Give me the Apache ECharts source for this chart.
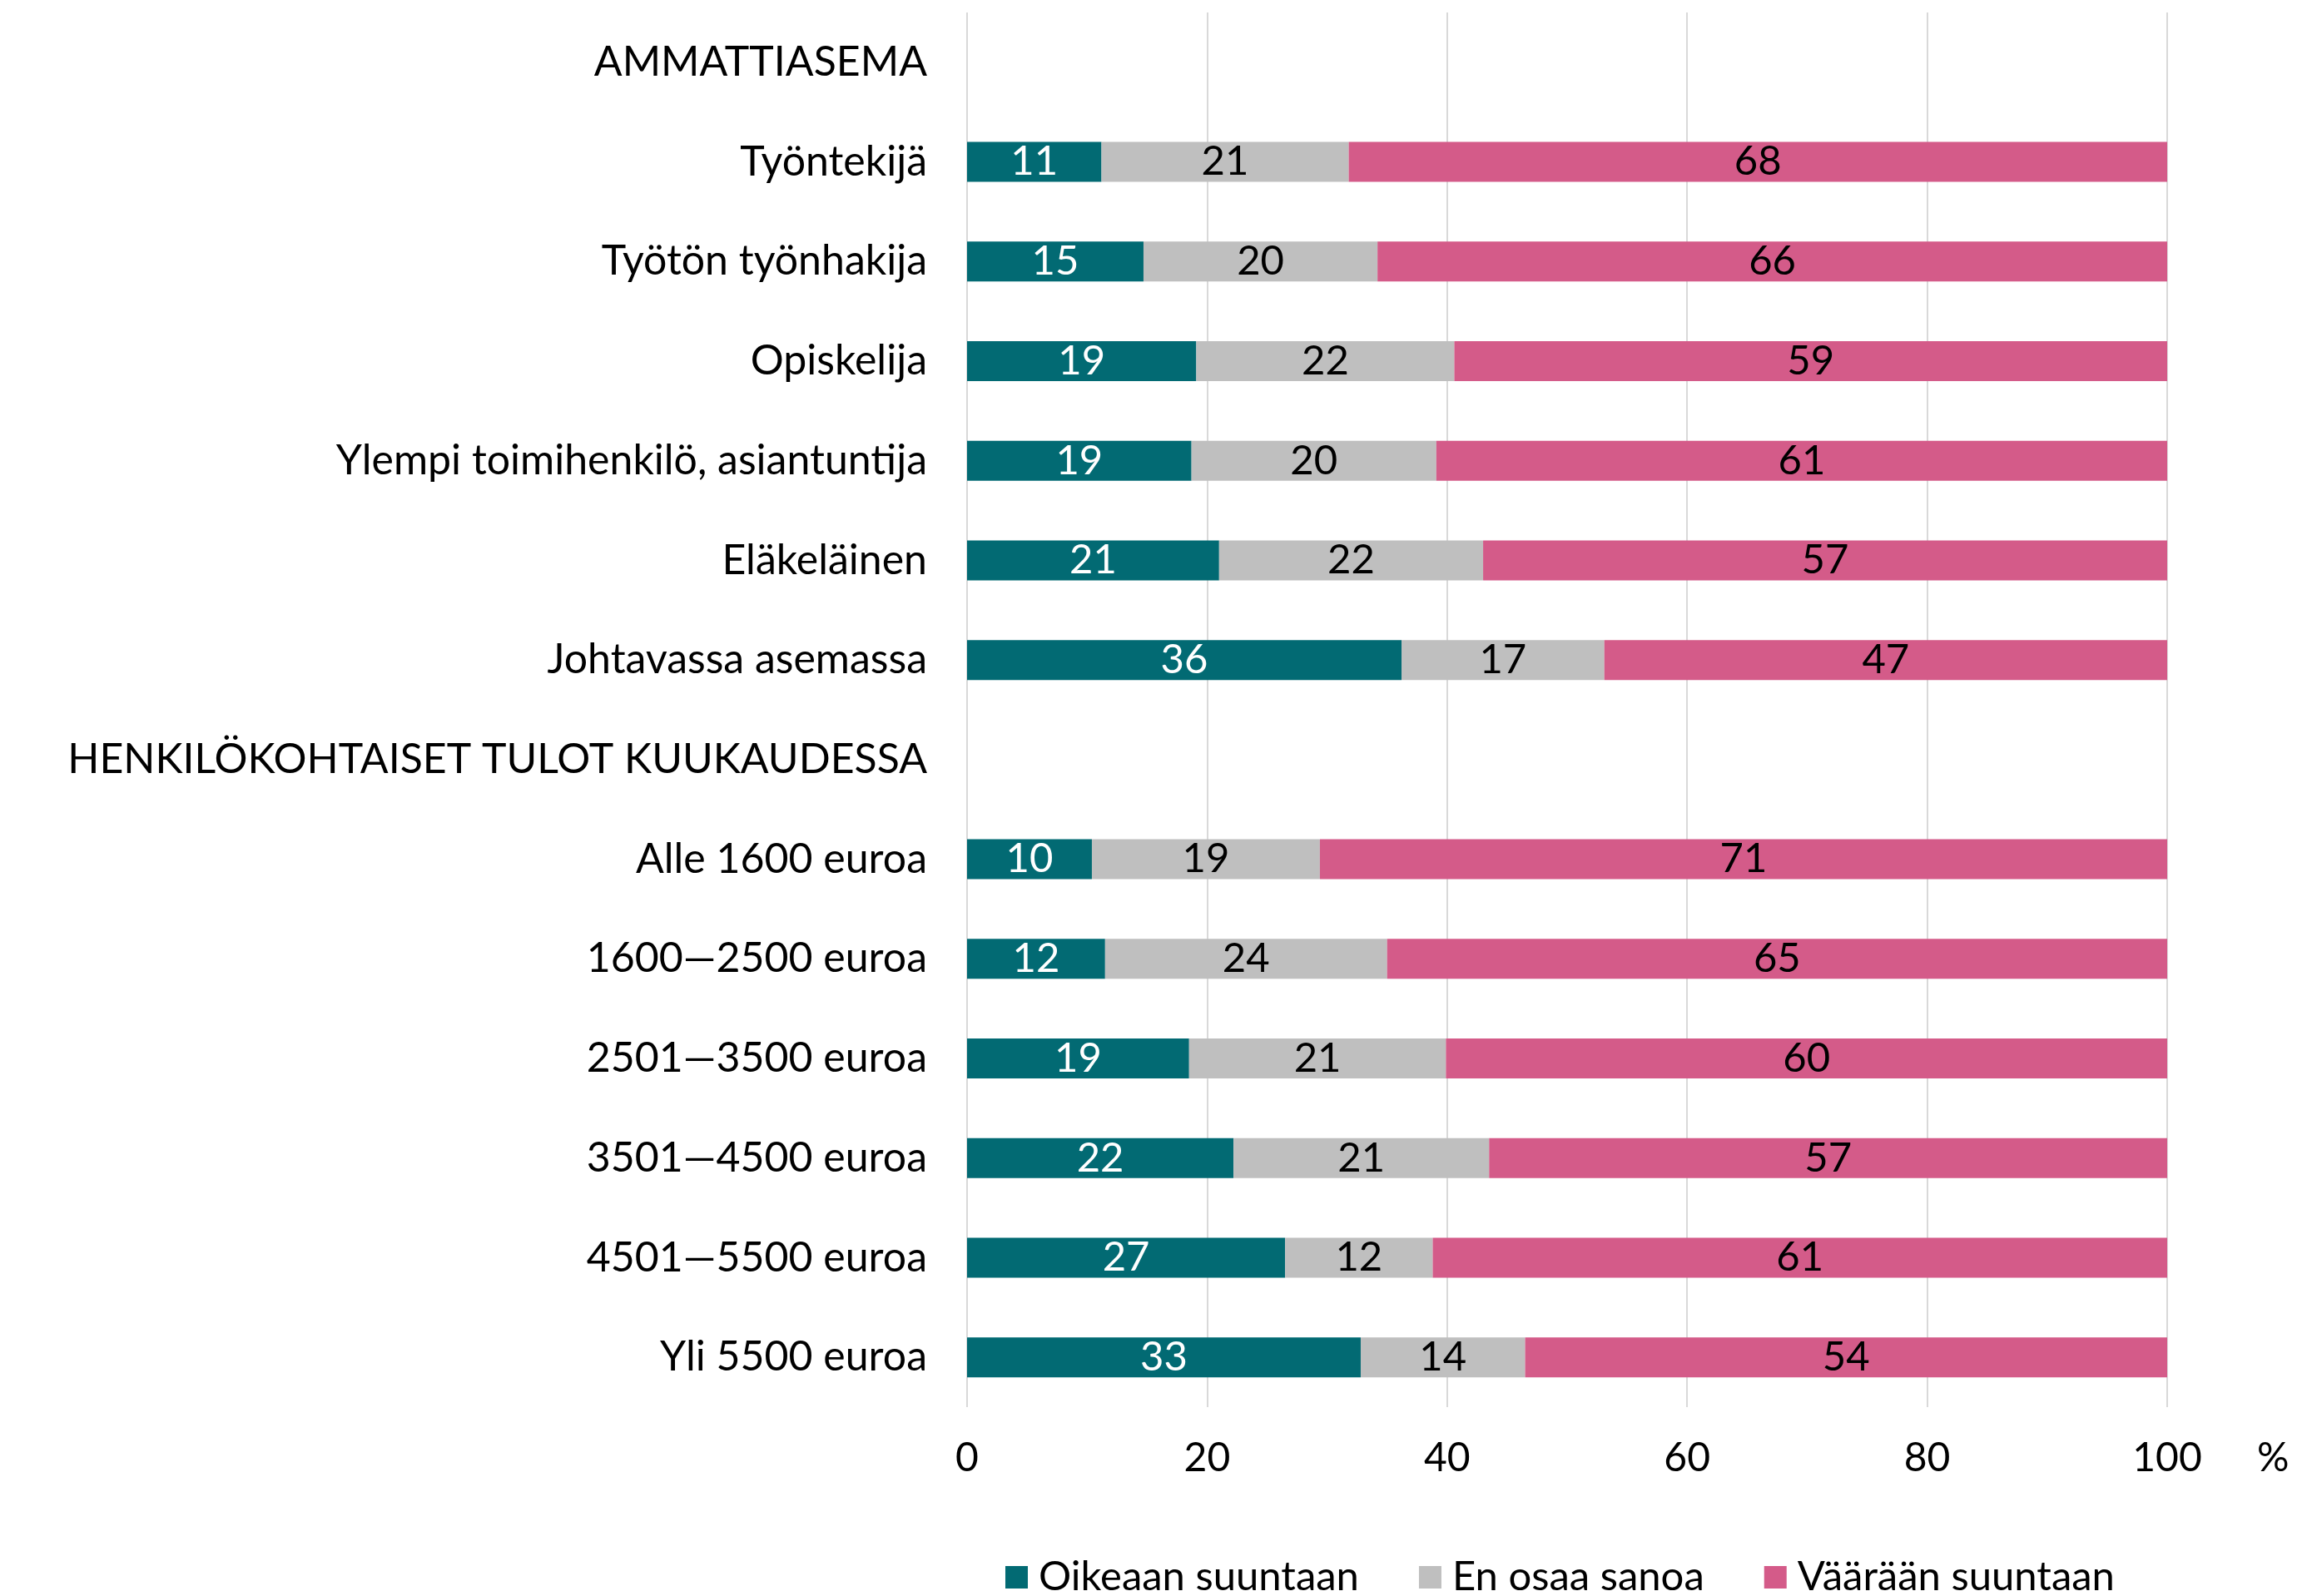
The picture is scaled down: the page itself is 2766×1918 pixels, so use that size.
<!DOCTYPE html>
<html>
<head>
<meta charset="utf-8">
<script src="https://cdn.jsdelivr.net/npm/echarts@6/dist/echarts.min.js"></script>
<style>
html,body{margin:0;padding:0;background:#fff;}
#chart{width:2766px;height:1918px;}
</style>
</head>
<body>
<div id="chart"></div>
<script>
const categories = ['AMMATTIASEMA','Työntekijä','Työtön työnhakija','Opiskelija','Ylempi toimihenkilö, asiantuntija','Eläkeläinen','Johtavassa asemassa','HENKILÖKOHTAISET TULOT KUUKAUDESSA','Alle 1600 euroa','1600—2500 euroa','2501—3500 euroa','3501—4500 euroa','4501—5500 euroa','Yli 5500 euroa'];
const seriesNames = ['Oikeaan suuntaan','En osaa sanoa','Väärään suuntaan'];
const oikeaan = [null, 11.2, 14.7, 19.1, 18.7, 21.0, 36.2, null, 10.4, 11.5, 18.5, 22.2, 26.5, 32.8];
const enOsaa  = [null, 20.6, 19.5, 21.5, 20.4, 22.0, 16.9, null, 19.0, 23.5, 21.4, 21.3, 12.3, 13.7];
const vaaraan = [null, 68.2, 65.8, 59.4, 60.9, 57.0, 46.9, null, 70.6, 65.0, 60.1, 56.5, 61.2, 53.5];
const xTicks = [0, 20, 40, 60, 80, 100];

const FONT = 'Lato';
const colors = ['#026A73', '#BFBFBF', '#D45B89'];
const labelColors = ['#ffffff', '#000000', '#000000'];
const datasets = [oikeaan, enOsaa, vaaraan];

const chart = echarts.init(document.getElementById('chart'));
chart.setOption({
  backgroundColor: '#ffffff',
  animation: false,
  textStyle: { fontFamily: FONT },
  grid: { left: 1162, right: 162, top: 15, height: 1676, containLabel: false },
  xAxis: {
    type: 'value',
    min: xTicks[0],
    max: xTicks[xTicks.length - 1],
    interval: 20,
    name: '%',
    nameLocation: 'end',
    nameGap: 108,
    nameTextStyle: { fontFamily: FONT, fontSize: 48, color: '#000', verticalAlign: 'top', padding: [38, 0, 0, 0] },
    axisLine: { show: false },
    axisTick: { show: false },
    splitLine: { show: true, lineStyle: { color: '#D9D9D9', width: 2 } },
    axisLabel: { fontFamily: FONT, fontSize: 48, color: '#000', margin: 38 }
  },
  yAxis: {
    type: 'category',
    data: categories,
    inverse: true,
    axisLine: { show: false },
    axisTick: { show: false },
    splitLine: { show: false },
    axisLabel: { fontFamily: FONT, fontSize: 50, color: '#000', margin: 48 }
  },
  legend: {
    data: seriesNames,
    left: 1203,
    top: 1866,
    icon: 'rect',
    itemWidth: 27,
    itemHeight: 27,
    itemGap: 72,
    textStyle: { fontFamily: FONT, fontSize: 49, color: '#000', padding: [0, 0, 0, 8] }
  },
  series: seriesNames.map((name, i) => ({
    name: name,
    type: 'bar',
    stack: 'total',
    barWidth: 48,
    data: datasets[i],
    itemStyle: { color: colors[i] },
    label: {
      show: true,
      position: 'inside',
      fontFamily: FONT,
      fontSize: 49,
      color: labelColors[i],
      formatter: p => (p.value == null ? '' : String(Math.round(p.value)))
    }
  }))
});
</script>
</body>
</html>
